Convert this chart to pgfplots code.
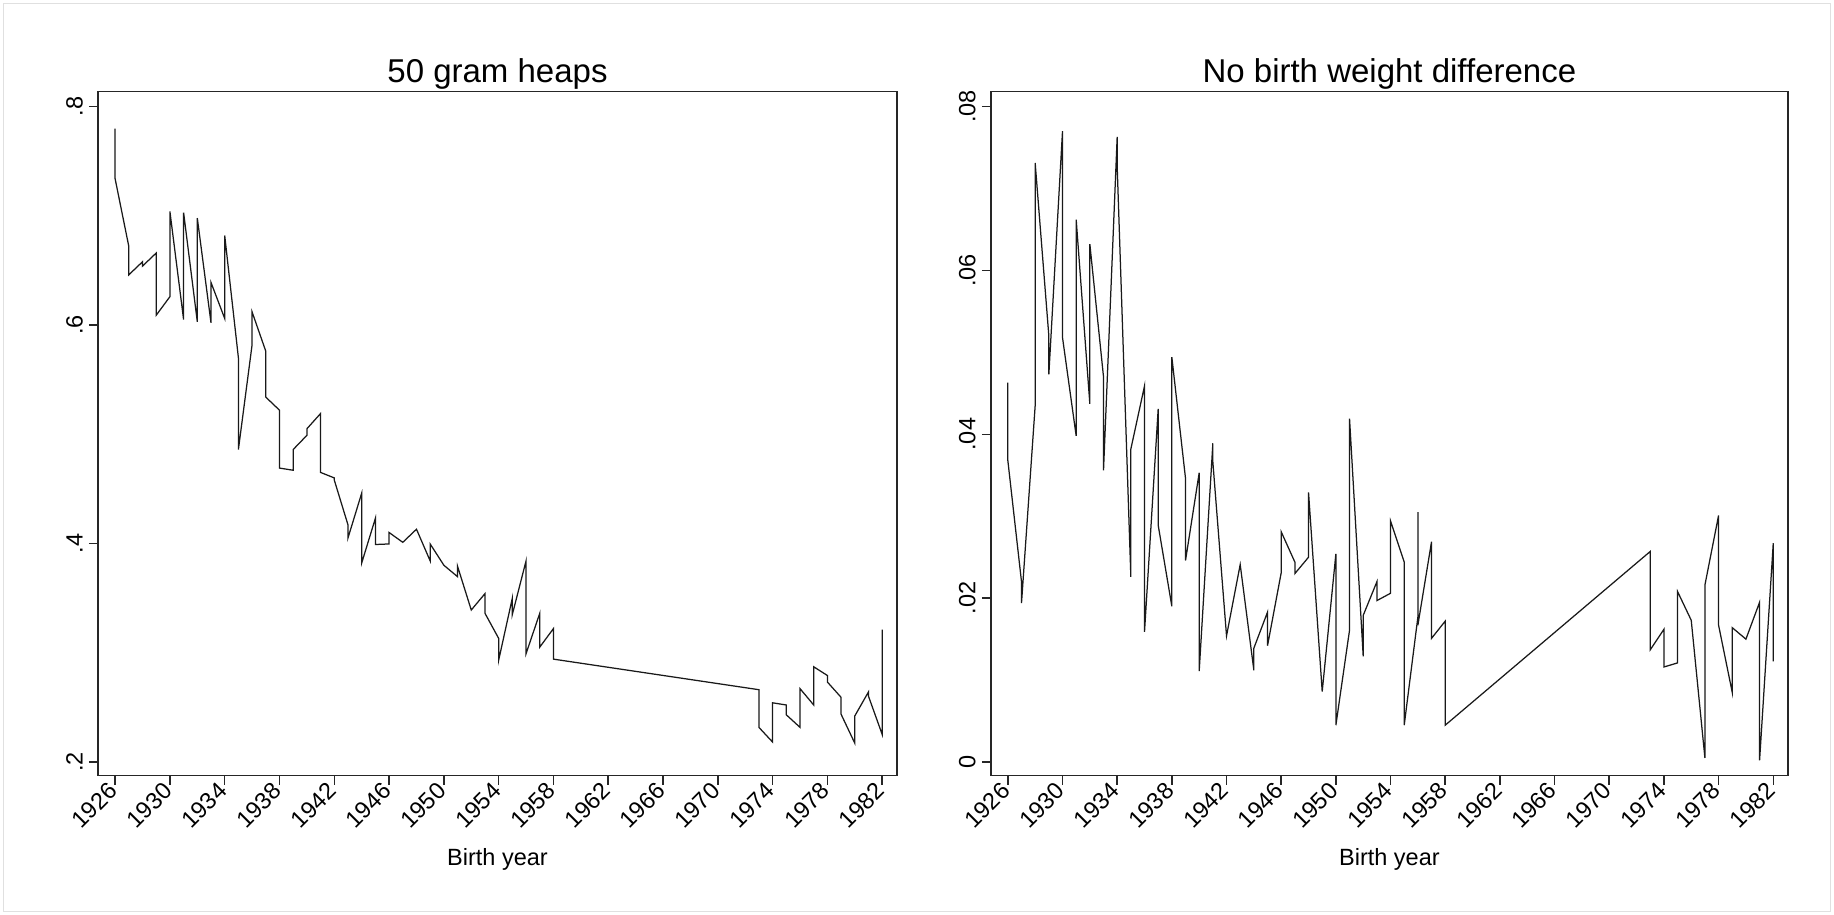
\documentclass[border=0pt]{standalone}
\usepackage{fontspec}
\setmainfont{Liberation Sans}
\usepackage{pgfplots}
\pgfplotsset{compat=1.18}
\pgfplotstableread{
yr v
1926 0.780
1926 0.734
1927 0.672
1927 0.646
1928 0.658
1928 0.654
1929 0.666
1929 0.609
1930 0.626
1930 0.704
1931 0.605
1931 0.703
1932 0.603
1932 0.698
1933 0.602
1933 0.639
1934 0.606
1934 0.682
1935 0.570
1935 0.486
1936 0.582
1936 0.612
1937 0.576
1937 0.534
1938 0.522
1938 0.469
1939 0.467
1939 0.486
1940 0.499
1940 0.505
1941 0.519
1941 0.465
1942 0.460
1942 0.458
1943 0.417
1943 0.405
1944 0.446
1944 0.382
1945 0.423
1945 0.399
1946 0.3995
1946 0.410
1947 0.401
1948 0.413
1949 0.384
1949 0.3995
1950 0.380
1951 0.3695
1951 0.379
1952 0.339
1953 0.354
1953 0.336
1954 0.313
1954 0.293
1955 0.350
1955 0.335
1956 0.384
1956 0.299
1957 0.336
1957 0.305
1958 0.322
1958 0.294
1973 0.266
1973 0.2315
1974 0.218
1974 0.254
1975 0.252
1975 0.243
1976 0.2315
1976 0.267
1977 0.252
1977 0.287
1978 0.279
1978 0.273
1979 0.259
1979 0.2435
1980 0.217
1980 0.242
1981 0.264
1981 0.260
1982 0.225
1982 0.321
}\heaps
\pgfplotstableread{
yr v
1926 0.0463
1926 0.0368
1927 0.0220
1927 0.0194
1928 0.0435
1928 0.0731
1929 0.0520
1929 0.0473
1930 0.0770
1930 0.0518
1931 0.0398
1931 0.0662
1932 0.0437
1932 0.0632
1933 0.0470
1933 0.0356
1934 0.0763
1934 0.0727
1935 0.0226
1935 0.0382
1936 0.0459
1936 0.0159
1937 0.0431
1937 0.0289
1938 0.0190
1938 0.0494
1939 0.0346
1939 0.0246
1940 0.0353
1940 0.0111
1941 0.0389
1941 0.0366
1942 0.0154
1943 0.0241
1944 0.0112
1944 0.0139
1945 0.0183
1945 0.0142
1946 0.0231
1946 0.0281
1947 0.0244
1947 0.0230
1948 0.0250
1948 0.0329
1949 0.0086
1950 0.0254
1950 0.0045
1951 0.0161
1951 0.0419
1952 0.0129
1952 0.0179
1953 0.0220
1953 0.0197
1954 0.0206
1954 0.0294
1955 0.0244
1955 0.0045
1956 0.0177
1956 0.0305
1956 0.0167
1957 0.0269
1957 0.0151
1958 0.0172
1958 0.0045
1973 0.0257
1973 0.0137
1974 0.0162
1974 0.0116
1975 0.0121
1975 0.0208
1976 0.0173
1977 0.0005
1977 0.0216
1978 0.0301
1978 0.0167
1979 0.0085
1979 0.0164
1980 0.0150
1981 0.0195
1981 0.0002
1982 0.0267
1982 0.0123
}\nodiff
\pgfplotsset{
  stata/.style={
    scale only axis,
    height=273.6pt,
    xmin=1924.75, xmax=1983.08,
    axis line style={black!85, line width=0.6pt},
    tick style={black!85, line width=0.6pt},
    tick align=outside,
    major tick length=3.6pt,
    xtick pos=left, ytick pos=left,
    xtick={1926,1930,...,1982},
    scaled y ticks=false,
    /pgf/number format/1000 sep={},
    /pgf/number format/assume math mode=true,
    x tick label style={rotate=45, anchor=east, inner sep=1pt,
      font=\fontsize{9.4}{11}\selectfont},
    y tick label style={xshift=-2.6pt, rotate=90, anchor=base, inner sep=0pt,
      font=\fontsize{9.4}{11}\selectfont},
    xlabel={Birth year},
    xlabel style={font=\fontsize{9.4}{11}\selectfont,
      at={(axis description cs:0.5,0)}, anchor=center, yshift=-33.6pt},
    title style={font=\fontsize{13.2}{15}\selectfont,
      at={(axis description cs:0.5,1)}, anchor=base, yshift=-2.2pt},
  }
}
\begin{document}
\begin{tikzpicture}
\useasboundingbox (0,0) rectangle (733.6pt,366pt);
\draw[black!12, line width=0.6pt] (1.4pt,1.4pt) rectangle (732.2pt,364.6pt);
\begin{axis}[stata,
  at={(39.2pt,55.7pt)}, anchor=south west,
  width=319.6pt,
  ymin=0.1872, ymax=0.8137,
  ytick={0.2,0.4,0.6,0.8},
  yticklabels={.2,.4,.6,.8},
  title={50 gram heaps}]
\addplot[black!90, line width=0.5pt] table[x=yr,y=v] {\heaps};
\end{axis}
\begin{axis}[stata,
  at={(396.3pt,55.7pt)}, anchor=south west,
  width=318.9pt,
  ymin=-0.00167, ymax=0.0818,
  ytick={0,0.02,0.04,0.06,0.08},
  yticklabels={0,.02,.04,.06,.08},
  title={No birth weight difference}]
\addplot[black!90, line width=0.5pt] table[x=yr,y=v] {\nodiff};
\end{axis}
\end{tikzpicture}
\end{document}
